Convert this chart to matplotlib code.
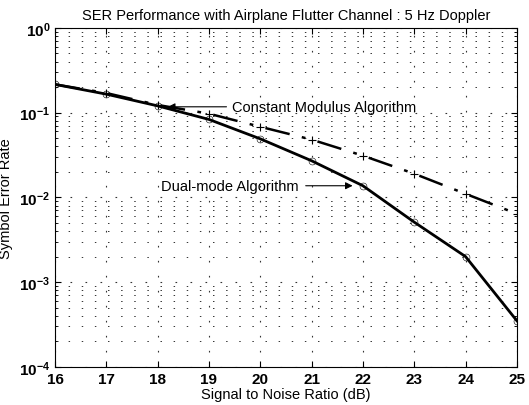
import numpy as np
import matplotlib.pyplot as plt
from matplotlib.ticker import LogLocator, NullFormatter

plt.rcParams['font.family'] = ['Liberation Sans', 'DejaVu Sans']

snr = [16, 17, 18, 19, 20, 21, 22, 23, 24, 25]
ser_dual = [0.215, 0.165, 0.12, 0.083, 0.049, 0.027, 0.0137, 0.0051, 0.0020, 0.00035]
ser_cma = [0.215, 0.17, 0.123, 0.097, 0.068, 0.048, 0.031, 0.019, 0.011, 0.0064]

fig = plt.figure(figsize=(5.29, 4.06), dpi=100)
ax = fig.add_axes([0.104, 0.094, 0.873, 0.835])

ax.semilogy(snr, ser_dual, color='black', linewidth=2, marker='o', markersize=5,
            markerfacecolor='none', markeredgewidth=0.4)
ax.semilogy(snr, ser_cma, color='black', linewidth=1.8, linestyle=(0, (10, 5, 1.5, 5)),
            marker='+', markersize=6, markeredgewidth=0.8)

ax.set_xlim(16, 25)
ax.set_ylim(1e-4, 1)
ax.set_xticks(snr)
ax.yaxis.set_major_locator(LogLocator(base=10, numticks=10))
ax.yaxis.set_minor_locator(LogLocator(base=10, subs=np.arange(2, 10), numticks=10))
ax.yaxis.set_minor_formatter(NullFormatter())
ax.tick_params(which='both', direction='in', top=True, right=True, labelsize=11)
ax.tick_params(which='major', length=4)
ax.tick_params(which='minor', length=2)
for lab in ax.get_xticklabels() + ax.get_yticklabels():
    lab.set_fontweight('bold')

# sparse dotted grid like the scanned MATLAB figure
ax.grid(True, which='major', color='#333333', linestyle=(0, (1.5, 12)), linewidth=0.8)
ax.grid(True, which='minor', axis='y', color='#333333', linestyle=(0, (1.5, 12)), linewidth=0.7)

ax.set_title('SER Performance with Airplane Flutter Channel : 5 Hz Doppler', fontsize=10.5)
ax.set_xlabel('Signal to Noise Ratio (dB)', fontsize=10.5, labelpad=1)
ax.set_ylabel('Symbol Error Rate', fontsize=10.5)

ax.annotate('Constant Modulus Algorithm', xy=(18.2, 0.117), xytext=(19.45, 0.117),
            fontsize=10.5, va='center', ha='left',
            arrowprops=dict(arrowstyle='-|>', color='black', lw=0.8, shrinkA=2, shrinkB=0))
ax.annotate('Dual-mode Algorithm', xy=(21.8, 0.0137), xytext=(20.75, 0.0137),
            fontsize=10.5, va='center', ha='right',
            arrowprops=dict(arrowstyle='-|>', color='black', lw=0.8, shrinkA=3, shrinkB=0))

fig.savefig('out.png', dpi=100)
